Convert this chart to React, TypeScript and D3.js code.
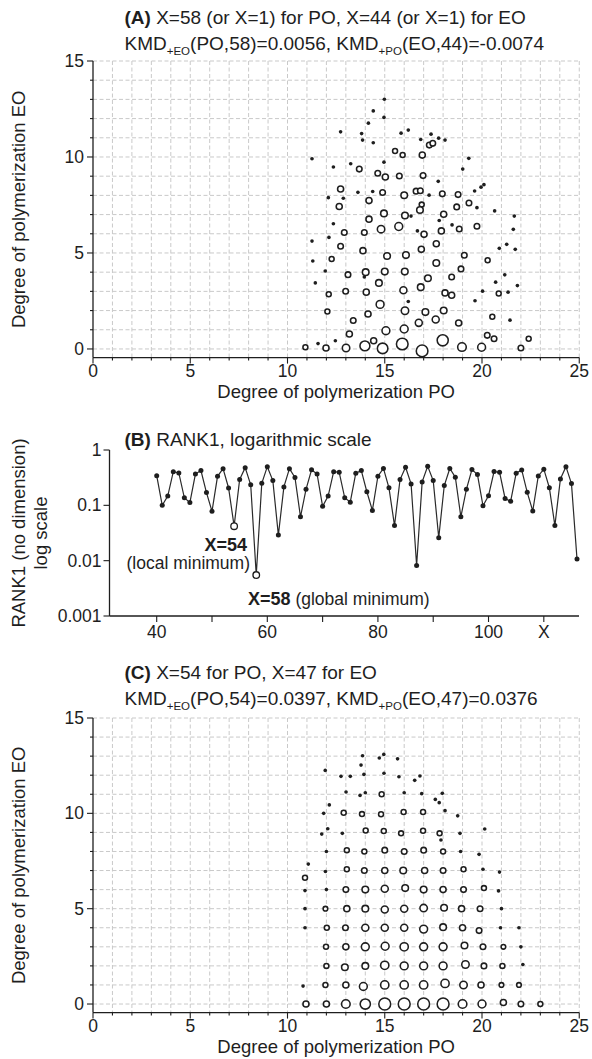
import React from "react";
import * as d3 from "d3";

const FONT = "'Liberation Sans', Arial, Helvetica, sans-serif";

// ---------- Panel A: [PO, EO, relative abundance] ----------
const panelAPoints: [number, number, number][] = [
  [14.98, 13.01, 3], [14.41, 12.4, 3], [14.96, 12.06, 3], [14.16, 11.76, 3], [12.73, 11.31, 3],
  [13.81, 11.22, 3], [15.84, 11.24, 3], [16.21, 11.4, 3], [13.86, 10.88, 3], [14.41, 10.74, 3],
  [16.85, 10.91, 3], [17.38, 11.19, 3], [17.77, 10.98, 3], [18.1, 10.88, 3], [17.29, 10.62, 5],
  [17.47, 10.71, 5], [11.26, 9.91, 3], [15.53, 10.31, 4], [15.92, 10.1, 4], [16.93, 10.1, 6],
  [19.32, 9.93, 3], [12.36, 9.48, 3], [13.25, 9.65, 3], [13.69, 9.37, 5], [14.96, 9.73, 3],
  [19.01, 9.37, 3], [14.64, 9.15, 5], [15.03, 8.96, 6], [15.75, 9.01, 5], [16.97, 9.03, 5],
  [17.75, 8.73, 3], [12.73, 8.33, 6], [12.1, 7.88, 3], [12.87, 7.85, 3], [13.62, 8.16, 3],
  [14.38, 8.2, 3], [14.89, 8.15, 5], [16.0, 8.01, 7], [16.61, 8.22, 5], [16.83, 8.24, 5],
  [17.28, 8.01, 3], [17.96, 8.08, 5], [18.77, 8.04, 5], [19.62, 8.23, 3], [19.95, 8.43, 3],
  [20.1, 8.56, 3], [12.66, 7.42, 6], [14.19, 7.73, 6], [16.9, 7.52, 4], [16.81, 7.24, 7],
  [18.7, 7.4, 5], [19.33, 7.6, 5], [19.74, 7.36, 3], [20.65, 7.19, 3], [21.66, 6.92, 3],
  [12.36, 6.52, 3], [14.19, 6.76, 6], [14.96, 7.06, 7], [16.04, 6.95, 7], [16.35, 6.92, 3],
  [18.03, 7.02, 6], [17.8, 6.69, 3], [18.46, 6.46, 3], [18.83, 6.25, 5], [19.74, 6.39, 5],
  [21.61, 6.23, 3], [12.92, 6.07, 5], [13.95, 6.07, 5], [14.81, 6.24, 9], [15.72, 6.38, 10],
  [16.68, 6.15, 3], [17.02, 5.97, 6], [17.91, 6.15, 6], [12.13, 5.81, 3], [11.26, 5.62, 3],
  [12.73, 5.35, 5], [17.65, 5.48, 6], [20.89, 5.24, 3], [21.27, 5.45, 3], [21.71, 5.19, 3],
  [11.3, 4.58, 3], [12.27, 4.69, 4], [13.88, 5.12, 6], [15.12, 4.84, 7], [16.09, 4.89, 7],
  [16.88, 5.19, 6], [17.65, 4.48, 7], [19.09, 4.88, 5], [20.29, 4.62, 4], [11.94, 4.06, 3],
  [13.11, 3.87, 5], [14.02, 4.0, 7], [13.95, 3.75, 3], [15.0, 4.03, 7], [16.03, 4.03, 7],
  [17.22, 3.68, 7], [18.44, 3.75, 5], [18.92, 4.17, 5], [21.17, 3.86, 3], [11.43, 3.44, 3],
  [14.7, 3.44, 7], [20.7, 3.48, 3], [21.82, 3.3, 3], [12.12, 2.85, 4], [12.99, 3.01, 5],
  [14.05, 2.96, 6], [15.96, 3.06, 8], [16.85, 3.22, 7], [18.1, 2.92, 6], [18.44, 2.8, 6],
  [19.64, 2.51, 3], [20.03, 3.01, 3], [20.86, 2.89, 4], [21.34, 2.96, 3], [16.21, 2.47, 3],
  [14.76, 2.32, 10], [12.05, 1.95, 4], [14.14, 1.82, 6], [16.04, 1.99, 9], [17.09, 1.92, 7],
  [18.03, 2.0, 7], [17.62, 1.53, 8], [16.75, 1.36, 8], [18.8, 1.35, 6], [20.53, 1.68, 4],
  [21.44, 1.5, 3], [13.38, 1.48, 5], [13.18, 0.78, 6], [15.06, 0.95, 10], [16.0, 1.04, 10],
  [20.27, 0.71, 5], [20.62, 0.53, 5], [22.4, 0.53, 4], [12.46, 0.43, 3], [14.43, 0.43, 6],
  [10.92, 0.09, 4], [11.57, 0.28, 3], [11.98, 0.05, 6], [13.01, 0.05, 9], [13.98, 0.16, 16],
  [14.89, 0.03, 18], [15.9, 0.26, 22], [16.92, -0.1, 22], [17.98, 0.45, 20], [18.97, 0.1, 12],
  [19.98, 0.09, 10], [22.0, 0.05, 5],
];

// ---------- Panel C: [PO, EO, relative abundance] ----------
const panelCPoints: [number, number, number][] = [
  [10.95, 0, 6], [12, 0, 6], [13, 0, 12], [14, 0, 17], [15, 0, 23], [16, 0, 23], [17, 0, 23],
  [18, 0, 23], [19, 0, 12], [20, 0, 10], [21.1, 0.08, 6], [22, 0, 5], [23, 0, 4],
  [10.8, 0.94, 3], [11.95, 1, 4], [13, 1, 6], [13.9, 0.92, 10], [15, 1, 11], [16, 1, 11],
  [17, 1, 11], [18.1, 1.08, 11], [19.05, 1, 9], [19.95, 1, 6], [21, 1, 3.5], [21.9, 1, 3.5],
  [12, 2, 4], [12.95, 1.93, 7], [14, 2, 7], [15, 2.03, 11], [16, 2, 10], [17, 2, 10],
  [18, 2, 10], [19.15, 2.07, 9], [20.1, 2, 5], [21.05, 2, 4], [22.1, 2.07, 3],
  [11.98, 3, 4], [13, 3, 6], [14, 3, 10], [15.02, 3.03, 10], [16, 3, 11], [17, 3, 10],
  [18, 3, 10], [19.1, 3.07, 7], [20.05, 3, 5], [21.1, 3, 3.5], [22, 3, 3],
  [10.9, 4, 3], [12.02, 4, 4], [12.98, 4, 5], [14, 4, 8], [15, 4, 8], [16, 4, 8],
  [17, 3.93, 10], [18, 4.03, 7], [19, 4, 6], [19.85, 3.85, 5], [20.95, 4, 3], [21.9, 4, 3],
  [10.9, 5, 3], [11.95, 5, 3.5], [13.05, 5, 6], [14, 5, 7], [15, 4.96, 8], [16, 5, 8],
  [17, 5.03, 9], [18.05, 5.05, 7], [18.95, 5, 6], [19.9, 5, 5], [21, 5, 3],
  [10.9, 5.95, 3], [12, 6, 3], [13, 6, 5], [14, 6, 7], [15, 6.05, 8], [16.05, 6.08, 7],
  [17, 6, 7], [18, 6, 6], [19.05, 6, 5], [20.1, 6.08, 4], [20.85, 5.93, 3],
  [10.9, 6.62, 4], [11.07, 7.34, 3],
  [11.95, 6.95, 3], [13.05, 7.07, 4], [13.95, 7, 5], [15, 7, 6], [15.95, 7, 7], [17.05, 7, 6],
  [18, 7, 5], [19.05, 7.07, 4], [20.05, 7.07, 3], [20.9, 6.92, 3],
  [12, 8, 3], [13.05, 8.07, 4], [13.95, 8, 4], [15, 8.07, 5], [16, 8, 5], [17, 8.07, 5],
  [18, 8, 4], [18.9, 8, 3], [19.85, 7.85, 3],
  [11.76, 8.91, 3], [12.07, 9.19, 3], [12.82, 8.95, 3], [14.02, 9.1, 4], [14.95, 9.07, 4],
  [15.84, 8.95, 4], [16.97, 9.09, 4], [17.82, 8.95, 4], [17.89, 8.6, 3], [18.87, 8.95, 3],
  [20.14, 9.18, 3],
  [11.86, 10.0, 3], [12.89, 10.03, 4], [13.83, 9.96, 4], [14.81, 9.95, 4], [15.97, 10.07, 4],
  [16.97, 10.07, 4], [18.1, 10.14, 3], [18.75, 9.87, 3],
  [12.15, 10.44, 3], [13.01, 11.12, 3], [13.73, 10.94, 3], [14.0, 11.08, 3], [14.84, 11.0, 4],
  [16.0, 11.08, 3], [16.9, 11.03, 3], [17.6, 10.73, 3], [17.8, 10.56, 3], [17.96, 11.05, 3],
  [11.94, 12.25, 3], [12.75, 11.94, 3], [13.23, 11.94, 3], [13.93, 12.04, 3], [14.96, 12.1, 3],
  [15.73, 11.92, 3], [16.54, 11.73, 3], [16.81, 11.96, 3], [13.78, 12.53, 3], [13.86, 13.02, 3],
  [14.72, 12.9, 3], [14.95, 13.09, 3], [15.66, 12.86, 3],
];

// ---------- Panel B: RANK1 vs X ----------
const rankX = [
  40, 41, 42, 43, 44, 45, 46, 47, 48, 49, 50, 51, 52, 53, 54, 55, 56, 57, 58, 59,
  60, 61, 62, 63, 64, 65, 66, 67, 68, 69, 70, 71, 72, 73, 74, 75, 76, 77, 78, 79,
  80, 81, 82, 83, 84, 85, 86, 87, 88, 89, 90, 91, 92, 93, 94, 95, 96, 97, 98, 99,
  100, 101, 102, 103, 104, 105, 106, 107, 108, 109, 110, 111, 112, 113, 114, 115, 116,
];
const rankValues = [
  0.344, 0.1, 0.147, 0.405, 0.385, 0.137, 0.112, 0.368, 0.425, 0.17, 0.078, 0.334, 0.46, 0.206, 0.042, 0.293, 0.48, 0.235, 0.0055, 0.25,
  0.5, 0.28, 0.029, 0.215, 0.46, 0.318, 0.062, 0.195, 0.44, 0.368, 0.096, 0.147, 0.405, 0.396, 0.137, 0.114, 0.38, 0.424, 0.176, 0.081,
  0.336, 0.465, 0.207, 0.043, 0.292, 0.488, 0.244, 0.0082, 0.265, 0.51, 0.28, 0.026, 0.228, 0.463, 0.322, 0.062, 0.195, 0.442, 0.359, 0.098,
  0.149, 0.407, 0.396, 0.133, 0.118, 0.38, 0.436, 0.172, 0.079, 0.339, 0.45, 0.208, 0.043, 0.3, 0.5, 0.247, 0.0107,
];
const rankOpenX = [54, 58];
const rankXTicks = [40, 50, 60, 70, 80, 90, 100, 110];
const rankXTickLabels = ["40", "", "60", "", "80", "", "100", "X"];
const rankYTicks = [1, 0.1, 0.01, 0.001];
const rankYTickLabels = ["1", "0.1", "0.01", "0.001"];

const scatterXTicks = [0, 5, 10, 15, 20, 25];
const scatterYTicks = [0, 5, 10, 15];

const INK = "#1e1e1e";
const GRID = "#c9c9c9";

const rScale = d3.scaleSqrt().domain([0, 25]).range([0, 6.2]);

function ScatterPanel({
  points,
  x,
  y,
}: {
  points: [number, number, number][];
  x: d3.ScaleLinear<number, number>;
  y: d3.ScaleLinear<number, number>;
}) {
  const [x0, x1] = x.range();
  const [yb, yt] = y.range();
  const minorX = d3.range(0, 26);
  const minorY = d3.range(0, 16);
  return (
    <g>
      {minorX.slice(1).map((v) => (
        <line key={"gx" + v} x1={x(v)} x2={x(v)} y1={yt} y2={yb} stroke={GRID} strokeWidth={1} strokeDasharray="4,2.5" />
      ))}
      {minorY.map((v) => (
        <line key={"gy" + v} x1={x0} x2={x1} y1={y(v)} y2={y(v)} stroke={GRID} strokeWidth={1} strokeDasharray="4,2.5" />
      ))}
      <line x1={x0} x2={x0} y1={yt} y2={yb} stroke={INK} strokeWidth={1.3} />
      <line x1={x0} x2={x1} y1={yb} y2={yb} stroke={INK} strokeWidth={1.3} />
      {minorX.map((v) => (
        <line key={"tx" + v} x1={x(v)} x2={x(v)} y1={yb} y2={yb + (v % 5 === 0 ? 6 : 3)} stroke={INK} strokeWidth={1.1} />
      ))}
      {minorY.map((v) => (
        <line key={"ty" + v} x1={x0 - (v % 5 === 0 ? 6 : 3)} x2={x0} y1={y(v)} y2={y(v)} stroke={INK} strokeWidth={1.1} />
      ))}
      {scatterXTicks.map((v) => (
        <text key={"lx" + v} x={x(v)} y={yb + 19} textAnchor="middle" fontSize={17.5} fill={INK}>
          {v}
        </text>
      ))}
      {scatterYTicks.map((v) => (
        <text key={"ly" + v} x={x0 - 9} y={y(v)} dy="0.35em" textAnchor="end" fontSize={17.5} fill={INK}>
          {v}
        </text>
      ))}
      {points.map((p, i) => {
        const r = rScale(p[2]);
        const small = p[2] <= 3;
        return small ? (
          <circle key={i} cx={x(p[0])} cy={y(p[1])} r={r * 0.85} fill={INK} />
        ) : (
          <circle key={i} cx={x(p[0])} cy={y(p[1])} r={r} fill="white" stroke={INK} strokeWidth={1.55} />
        );
      })}
    </g>
  );
}

function KmdLine({ x, y, parts }: { x: number; y: number; parts: [string, string, string, string, string] }) {
  return (
    <text x={x} y={y} fontSize={19} fill={INK}>
      <tspan>{parts[0]}</tspan>
      <tspan fontSize={11.5} dy={5}>{parts[1]}</tspan>
      <tspan dy={-5}>{parts[2]}</tspan>
      <tspan fontSize={11.5} dy={5}>{parts[3]}</tspan>
      <tspan dy={-5}>{parts[4]}</tspan>
    </text>
  );
}

export default function App() {
  const xA = d3.scaleLinear().domain([0, 25]).range([93, 579.25]);
  const yA = d3.scaleLinear().domain([-0.45, 15]).range([357.6, 61]);
  const xC = d3.scaleLinear().domain([0, 25]).range([93, 579.25]);
  const yC = d3.scaleLinear().domain([-0.45, 15]).range([1012.6, 718]);

  const xB = d3.scaleLinear().domain([40, 116]).range([156.7, 577]);
  const yB = d3.scaleLog().domain([0.001, 1]).range([616, 450]);
  const bAxisLeft = 109.5;
  const bAxisRight = 579;

  const series = rankX.map((v, i) => [v, rankValues[i]] as [number, number]);
  const line = d3
    .line<[number, number]>()
    .x((d) => xB(d[0]))
    .y((d) => yB(d[1]));

  const [ybA] = yA.range();
  const [ybC] = yC.range();

  return (
    <svg width={592} height={1059} style={{ display: "block", position: "absolute", left: 0, top: 0, background: "white" }} fontFamily={FONT}>
      <rect x={0} y={0} width={592} height={1059} fill="white" />

      {/* ---------- Panel A ---------- */}
      <text x={124.5} y={24} fontSize={19} fill={INK}>
        <tspan fontWeight="bold">(A)</tspan>
        {" X=58 (or X=1) for PO, X=44 (or X=1) for EO"}
      </text>
      <KmdLine x={124.5} y={50} parts={["KMD", "+EO", "(PO,58)=0.0056, KMD", "+PO", "(EO,44)=-0.0074"]} />
      <ScatterPanel points={panelAPoints} x={xA} y={yA} />
      <text x={(xA.range()[0] + xA.range()[1]) / 2} y={ybA + 40} textAnchor="middle" fontSize={18.5} fill={INK}>
        Degree of polymerization PO
      </text>
      <text transform={`translate(25,${(ybA + yA.range()[1]) / 2}) rotate(-90)`} textAnchor="middle" fontSize={18.5} fill={INK}>
        Degree of polymerization EO
      </text>

      {/* ---------- Panel B ---------- */}
      <text x={124.5} y={446} fontSize={19} fill={INK}>
        <tspan fontWeight="bold">(B)</tspan>
        {" RANK1, logarithmic scale"}
      </text>
      <line x1={bAxisLeft} x2={bAxisLeft} y1={yB(1)} y2={yB(0.001)} stroke={INK} strokeWidth={1.3} />
      <line x1={bAxisLeft} x2={bAxisRight} y1={yB(0.001)} y2={yB(0.001)} stroke={INK} strokeWidth={1.3} />
      {rankYTicks.map((v, i) => (
        <g key={"by" + v}>
          <line x1={bAxisLeft - 6} x2={bAxisLeft} y1={yB(v)} y2={yB(v)} stroke={INK} strokeWidth={1.1} />
          <text x={bAxisLeft - 8} y={yB(v)} dy="0.35em" textAnchor="end" fontSize={17.5} fill={INK}>
            {rankYTickLabels[i]}
          </text>
        </g>
      ))}
      {rankXTicks.map((v, i) => (
        <g key={"bx" + v}>
          <line x1={xB(v)} x2={xB(v)} y1={yB(0.001)} y2={yB(0.001) + 6} stroke={INK} strokeWidth={1.1} />
          <text x={xB(v)} y={yB(0.001) + 22} textAnchor="middle" fontSize={17.5} fill={INK}>
            {rankXTickLabels[i]}
          </text>
        </g>
      ))}
      <path d={line(series) || ""} fill="none" stroke="#2a2a2a" strokeWidth={1.2} />
      {series.map((d) =>
        rankOpenX.includes(d[0]) ? (
          <circle key={"p" + d[0]} cx={xB(d[0])} cy={yB(d[1])} r={3.3} fill="white" stroke={INK} strokeWidth={1.3} />
        ) : (
          <circle key={"p" + d[0]} cx={xB(d[0])} cy={yB(d[1])} r={2.5} fill={INK} />
        )
      )}
      <text x={247} y={551} textAnchor="end" fontSize={18} fontWeight="bold" fill={INK}>X=54</text>
      <text x={250} y={569} textAnchor="end" fontSize={17.5} fill={INK}>(local minimum)</text>
      <text x={248} y={605} fontSize={17.5} fill={INK}>
        <tspan fontWeight="bold" fontSize={18}>X=58</tspan>
        {" (global minimum)"}
      </text>
      <text transform={`translate(25,${(yB(1) + yB(0.001)) / 2}) rotate(-90)`} textAnchor="middle" fontSize={18.5} fill={INK}>
        RANK1 (no dimension)
      </text>
      <text transform={`translate(47,${(yB(1) + yB(0.001)) / 2}) rotate(-90)`} textAnchor="middle" fontSize={18.5} fill={INK}>
        log scale
      </text>

      {/* ---------- Panel C ---------- */}
      <text x={124.5} y={679} fontSize={19} fill={INK}>
        <tspan fontWeight="bold">(C)</tspan>
        {" X=54 for PO, X=47 for EO"}
      </text>
      <KmdLine x={124.5} y={705} parts={["KMD", "+EO", "(PO,54)=0.0397, KMD", "+PO", "(EO,47)=0.0376"]} />
      <ScatterPanel points={panelCPoints} x={xC} y={yC} />
      <text x={(xC.range()[0] + xC.range()[1]) / 2} y={ybC + 40} textAnchor="middle" fontSize={18.5} fill={INK}>
        Degree of polymerization PO
      </text>
      <text transform={`translate(25,${(ybC + yC.range()[1]) / 2}) rotate(-90)`} textAnchor="middle" fontSize={18.5} fill={INK}>
        Degree of polymerization EO
      </text>
    </svg>
  );
}
